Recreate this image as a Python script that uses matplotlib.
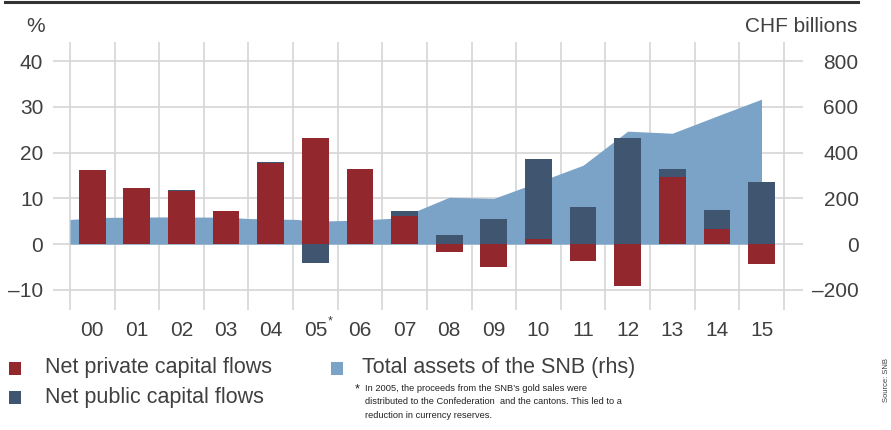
import matplotlib
import matplotlib.pyplot as plt
import matplotlib.patches as patches
from matplotlib.lines import Line2D
import numpy as np

matplotlib.use("agg")

plt.rcParams["font.family"] = ["Liberation Sans", "DejaVu Sans"]

years = ["00", "01", "02", "03", "04", "05", "06", "07",
         "08", "09", "10", "11", "12", "13", "14", "15"]
# capital flows, % of GDP
private_flows = [16.2, 12.2, 11.6, 7.3, 17.8, 23.3, 16.5, 6.2,
                 -1.8, -5.1, 1.2, -3.7, -9.2, 14.7, 3.4, -4.4]
public_flows = [0.0, 0.0, 0.2, 0.0, 0.2, -4.2, 0.0, 1.1,
                2.0, 5.6, 17.5, 8.2, 23.2, 1.8, 4.0, 13.6]
# SNB balance sheet, CHF billions, by date (decimal year)
assets_date = [2000.0, 2000.8, 2002.0, 2003.5, 2004.0, 2005.1, 2005.4,
               2006.5, 2007.2, 2007.8, 2008.5, 2009.5, 2010.2, 2011.5,
               2012.5, 2013.5, 2014.5, 2015.5]
assets_total = [108, 117, 119, 118, 112, 108, 100,
                105, 113, 148, 205, 200, 250, 345,
                494, 485, 560, 634]

RED = "#93272e"
NAVY = "#3f5570"
SKY = "#7ba3c7"
GRID = "#d6d6d6"
TXT = "#404040"


def stack_bars(ax, a, b, **kw):
    """Stack two signed series: positives upward, negatives downward."""
    a, b = np.asarray(a), np.asarray(b)
    x = np.arange(len(a))
    b_base = np.where(np.sign(b) == np.sign(a), a, 0.0)
    ax.bar(x, a, color=RED, **kw)
    ax.bar(x, b, bottom=b_base, color=NAVY, **kw)


fig = plt.figure(figsize=(8.91, 4.30), dpi=100)
ax = fig.add_axes([53 / 891, 1 - 310 / 430, 750 / 891, 268 / 430])
ax2 = ax.twinx()

ax.set_xlim(-0.88, 15.93)
ax.set_ylim(-14.4, 44.2)
ax2.set_ylim(-288, 884)

# right axis (grid + area) sits behind the bars
ax2.set_zorder(0)
ax.set_zorder(1)
ax.patch.set_visible(False)

ax2.set_yticks([-200, 0, 200, 400, 600, 800])
ax2.set_yticklabels(["\u2013200", "0", "200", "400", "600", "800"])
ax2.grid(True, axis="y", which="major", color=GRID, lw=1.2, zorder=0)
for edge in np.arange(-0.5, len(years)):
    ax2.axvline(edge, color=GRID, lw=1.2, zorder=0)
ax2.fill_between(np.array(assets_date) - 2000.5, assets_total, 0,
                 color=SKY, lw=0, zorder=2)
ax2.set_axisbelow(True)
ax2.tick_params(axis="y", length=0, labelsize=15, labelcolor=TXT, pad=40)
for lbl in ax2.get_yticklabels():
    lbl.set_horizontalalignment("right")

stack_bars(ax, private_flows, public_flows, width=0.6, zorder=3)

for a in (ax, ax2):
    for s in a.spines.values():
        s.set_visible(False)

ax.set_yticks([-10, 0, 10, 20, 30, 40])
ax.set_yticklabels(["\u201310", "0", "10", "20", "30", "40"])
ax.set_xticks(np.arange(len(years)))
ax.set_xticklabels(years)
ax.tick_params(axis="both", which="both", length=0, labelsize=15,
               labelcolor=TXT)
ax.tick_params(axis="y", pad=7)
ax.tick_params(axis="x", pad=8)

ax.annotate("*", xy=(5, 0), xycoords=("data", "axes fraction"),
            xytext=(11, -8), textcoords="offset points", fontsize=9,
            color=TXT, ha="center", va="center")

fig.text(45 / 891, 1 - 26 / 430, "%", fontsize=15, color=TXT,
         ha="right", va="center")
fig.text(857 / 891, 1 - 26 / 430, "CHF billions", fontsize=15, color=TXT,
         ha="right", va="center")

# rule across the top
fig.add_artist(Line2D([5 / 891, 858 / 891], [1 - 1.5 / 430, 1 - 1.5 / 430],
                      color="#333333", lw=2.2))

# legend
legend_items = [
    (9, 45, 368, RED, "Net private capital flows"),
    (9, 45, 397, NAVY, "Net public capital flows"),
    (331, 362, 368, SKY, "Total assets of the SNB (rhs)"),
]
for px, tx, py, col, label in legend_items:
    fig.add_artist(patches.Rectangle((px / 891, 1 - (py + 6.5) / 430),
                                     12 / 891, 13 / 430, color=col, lw=0))
    fig.text(tx / 891, 1 - py / 430, label, fontsize=15.5,
             color=TXT, ha="left", va="center")

note = ("In 2005, the proceeds from the SNB\u2019s gold sales were\n"
        "distributed to the Confederation  and the cantons. This led to a\n"
        "reduction in currency reserves.")
fig.text(355 / 891, 1 - 389 / 430, "*", fontsize=9, color="#222222",
         ha="left", va="center")
fig.text(365 / 891, 1 - 384 / 430, note, fontsize=6.7, color="#222222",
         ha="left", va="top", linespacing=1.62)
fig.text(886 / 891, 1 - 380 / 430, "Source: SNB", fontsize=5.5, color=TXT,
         rotation=90, ha="center", va="center")

fig.savefig("out.png", dpi=100)
